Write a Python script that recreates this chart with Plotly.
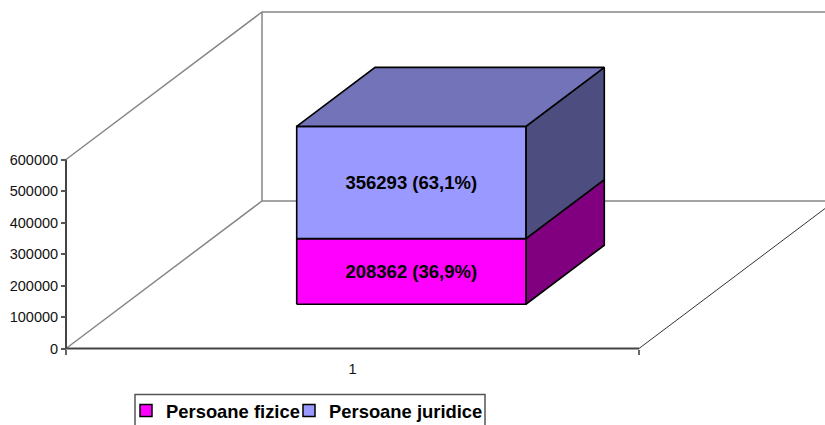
import plotly.graph_objects as go

categories = ["1"]
series_names = ["Persoane fizice", "Persoane juridice"]
series_values = [208362, 356293]
series_pct = ["36,9", "63,1"]
front_colors = ["#FF00FF", "#9999FF"]
side_colors = ["#800080", "#4D4D80"]
top_color = "#7373BA"
y_ticks = [0, 100000, 200000, 300000, 400000, 500000, 600000]

W, H = 825, 425
X0, Y0 = 66.0, 348.5          # pixel origin of the chart box
X_UNIT = 573.0                # pixels for one category
Y_UNIT = 600000 / 189.0       # value per pixel
DX, DY = 196.0, 147.5         # oblique depth offset in pixels
BAR_A, BAR_B = 0.3, 0.7       # bar extent within the category and depth
LABEL_NUDGE = 2.0             # pixels the value labels sit below the face centre


def proj(c, v, d):
    return c + d * DX / X_UNIT, v + d * DY * Y_UNIT


def poly(points):
    pts = [proj(*p) for p in points]
    return [p[0] for p in pts] + [pts[0][0]], [p[1] for p in pts] + [pts[0][1]]


def line(points, color, width, name="frame"):
    pts = [proj(*p) for p in points]
    return go.Scatter(x=[p[0] for p in pts], y=[p[1] for p in pts], mode="lines",
                      line=dict(color=color, width=width), hoverinfo="skip",
                      showlegend=False, name=name)


def face(points, color):
    xs, ys = poly(points)
    return go.Scatter(x=xs, y=ys, mode="lines", fill="toself", fillcolor=color,
                      line=dict(color="#000000", width=1.6), hoverinfo="skip",
                      showlegend=False)


fig = go.Figure()
GR = "#868686"
TOP = y_ticks[-1]
FAR = 1.4   # back wall and floor run past the right edge of the picture

fig.add_trace(line([(0, 0, 0), (0, 0, 1), (FAR, 0, 1)], GR, 1.5))
fig.add_trace(line([(0, TOP, 0), (0, TOP, 1), (FAR, TOP, 1)], GR, 1.5))
fig.add_trace(line([(0, 0, 1), (0, TOP, 1)], GR, 1.5))
fig.add_trace(line([(1, 0, 0), (1, 0, 1)], "#333333", 1))
fig.add_trace(line([(0, 0, 0), (0, TOP, 0)], "#444444", 2))
fig.add_trace(line([(0, 0, 0), (1, 0, 0)], "#444444", 2))

base = 0
for val, fc, sc in zip(series_values, front_colors, side_colors):
    up = base + val
    fig.add_trace(face([(BAR_B, base, BAR_A), (BAR_B, base, BAR_B), (BAR_B, up, BAR_B), (BAR_B, up, BAR_A)], sc))
    fig.add_trace(face([(BAR_A, base, BAR_A), (BAR_B, base, BAR_A), (BAR_B, up, BAR_A), (BAR_A, up, BAR_A)], fc))
    base = up
fig.add_trace(face([(BAR_A, base, BAR_A), (BAR_B, base, BAR_A), (BAR_B, base, BAR_B), (BAR_A, base, BAR_B)], top_color))

# value labels in the middle of each front face
base = 0
for val, pct in zip(series_values, series_pct):
    px, py = proj((BAR_A + BAR_B) / 2, base + val / 2 - LABEL_NUDGE * Y_UNIT, BAR_A)
    fig.add_trace(go.Scatter(x=[px], y=[py], mode="text", text=[f"<b>{val} ({pct}%)</b>"],
                             textposition="middle center",
                             textfont=dict(size=18.5, color="#000000", family="Liberation Sans"),
                             hoverinfo="skip", showlegend=False))
    base += val

# legend entries
for name, color in zip(series_names, front_colors):
    fig.add_trace(go.Scatter(x=[None], y=[None], mode="markers", name=name,
                             marker=dict(symbol="square", size=12, color=color,
                                         line=dict(color="#000000", width=1.5))))

fig.update_layout(
    width=W, height=H, autosize=False,
    margin=dict(l=0, r=0, t=0, b=0, autoexpand=False),
    paper_bgcolor="#FFFFFF", plot_bgcolor="#FFFFFF",
    font=dict(family="Liberation Sans", color="#111111", size=14),
    xaxis=dict(range=[-X0 / X_UNIT, (W - X0) / X_UNIT], domain=[0, 1],
               anchor="free", position=(H - Y0) / H,
               showgrid=False, zeroline=False, showline=False,
               tickvals=[0.5], ticktext=categories, ticklen=0, ticks="",
               ticklabelstandoff=10, tickfont=dict(size=14.5),
               minor=dict(tickvals=[0, 1], ticks="outside", ticklen=5, tickwidth=1.5,
                          tickcolor="#666666")),
    yaxis=dict(range=[(Y0 - H) * Y_UNIT, Y0 * Y_UNIT], domain=[0, 1],
               anchor="free", position=X0 / W,
               showgrid=False, zeroline=False, showline=False,
               tickvals=y_ticks, ticktext=[str(t) for t in y_ticks],
               ticks="outside", ticklen=5, tickwidth=1.5, tickcolor="#555555",
               tickfont=dict(size=14.5)),
    legend=dict(orientation="h",
                x=126 / W, xanchor="left", y=(H - 392) / H, yanchor="top",
                bgcolor="rgba(0,0,0,0)", borderwidth=0,
                font=dict(size=18.4, color="#000000", family="Liberation Sans", weight=700),
                entrywidth=118, entrywidthmode="pixels", itemclick=False, itemdoubleclick=False),
    shapes=[dict(type="rect", xref="paper", yref="paper", x0=135 / W, x1=485 / W,
                 y0=-0.05, y1=(H - 394.5) / H, line=dict(color="#555555", width=1.5),
                 fillcolor="#FFFFFF", layer="above")],
)

post = """
document.body.style.margin = '0';
var st = document.createElement('style');
st.textContent = '.legend .scrollbox{clip-path:none !important}';
document.head.appendChild(st);
"""
fig.write_html("out.html", config=dict(displayModeBar=False), post_script=post)
